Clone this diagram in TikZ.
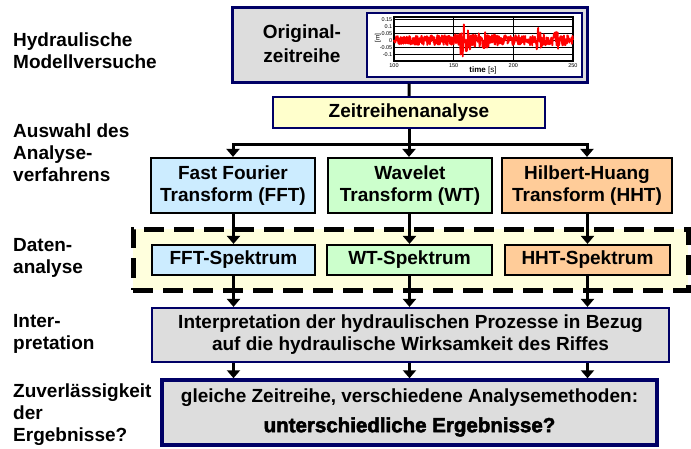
\documentclass[tikz,border=0pt]{standalone}
\usepackage{fontspec}
\setmainfont{Liberation Sans}
\newfontfamily\heavyfont{Liberation Sans}[BoldFeatures={FakeBold=2.5}]
\usetikzlibrary{arrows.meta}
\definecolor{navyc}{HTML}{000066}
\definecolor{grayc}{HTML}{DDDDDD}
\definecolor{yellc}{HTML}{FFFFCC}
\definecolor{dashc}{HTML}{FFFFDD}
\definecolor{bluec}{HTML}{CCECFF}
\definecolor{greenc}{HTML}{CCFFCC}
\definecolor{orangec}{HTML}{FFCC99}
\tikzset{
  mainfont/.style={font=\bfseries\fontsize{19}{22}\selectfont},
  box/.style={draw, line width=2.2, inner sep=0pt, align=center, mainfont},
  navybox/.style={box, draw=navyc},
  blackbox/.style={box, draw=black},
  sidelabel/.style={anchor=north west, inner sep=0pt, align=left, mainfont},
  arr/.style={line width=3, -{Triangle[width=13pt,length=8pt]}},
  conn/.style={line width=3},
  dashbox/.style={draw=black, line width=5, dash pattern=on 20pt off 10pt, fill=dashc, inner sep=0pt},
  tick/.style={font=\fontsize{5.5}{6}\selectfont, inner sep=0pt},
}
\begin{document}
\begin{tikzpicture}[x=1pt,y=-1pt]
\useasboundingbox (0,0) rectangle (691,448);

% side labels
\node[sidelabel] (l1) at (13,33) {Hydraulische\\Modellversuche};
\node[sidelabel] (l2) at (13,124) {Auswahl des\\Analyse-\\verfahrens};
\node[sidelabel] (l3) at (13,238) {Daten-\\analyse};
\node[sidelabel] (l4) at (13,314) {Inter-\\pretation};
\node[sidelabel] (l5) at (13,384) {Zuverlässigkeit\\der\\Ergebnisse?};

% top box
\node[navybox, line width=3, fill=grayc, minimum width=355, minimum height=75] (orig) at (409.5,44.5) {};
\node[inner sep=0pt, align=center, font=\bfseries\fontsize{19}{24}\selectfont] (origtxt) at (302,44) {Original-\\zeitreihe};
\node[draw=navyc, line width=2, fill=white, minimum width=215, minimum height=64, inner sep=0pt] (panel) at (474.5,45) {};

% plot grid
\foreach \v in {-0.1,-0.05,0,0.05,0.1,0.15}
  \draw[line width=1.4] (394,{40.5-140*\v}) -- (573,{40.5-140*\v});
\foreach \t in {150,200}
  \draw[line width=1.4] ({274.7+1.193*\t},17) -- ({274.7+1.193*\t},61);
\draw[line width=1.4] (394,17) rectangle (573,61);
\pgfmathsetseed{11}
\draw[red, line width=1.8, line join=round] plot[domain=100:250, samples=480]
  ({274.7+1.193*\x}, {40.5-140*(0.003+(0.034+0.11/(1+((\x-157)/1.5)^2)+0.05/(1+((\x-161)/3)^2)+0.025/(1+((\x-176)/4)^2)+0.06/(1+((\x-221)/1.5)^2)+0.07/(1+((\x-236)/1.5)^2))*rand)});
% tick labels
\foreach \v/\s in {0.15/0.15,0.1/0.1,0.05/0.05,0/0,-0.05/-0.05,-0.1/-0.1}
  \node[tick, anchor=east] at (392.5,{40.5-140*\v}) {\s};
\foreach \t in {100,150,200,250}
  \node[tick] at ({274.7+1.193*\t},66) {\t};
\node[inner sep=0pt, font=\fontsize{8}{9}\selectfont] (tlab) at (483,70) {\textbf{time} [s]};
\node[inner sep=0pt, rotate=90, font=\fontsize{6.5}{7}\selectfont] (ylab) at (378,38) {[m]};

% Zeitreihenanalyse
\node[navybox, fill=yellc, minimum width=272, minimum height=31] (zra) at (409,112.5) {Zeitreihenanalyse};

% transforms
\node[blackbox, fill=bluec, minimum width=164, minimum height=55] (fft) at (233,185.5) {Fast Fourier\\Transform (FFT)};
\node[blackbox, fill=greenc, minimum width=164, minimum height=55] (wt) at (410,185.5) {Wavelet\\Transform (WT)};
\node[blackbox, fill=orangec, minimum width=170, minimum height=55] (hht) at (587,185.5) {Hilbert-Huang\\Transform (HHT)};

% data analysis
\node[dashbox, minimum width=555, minimum height=61] (dz) at (410.5,259.5) {};
\node[blackbox, fill=bluec, minimum width=163, minimum height=30] (fftsp) at (233.5,260) {FFT-Spektrum};
\node[blackbox, fill=greenc, minimum width=165, minimum height=30] (wtsp) at (409.5,260) {WT-Spektrum};
\node[blackbox, fill=orangec, minimum width=165, minimum height=30] (hhtsp) at (587.5,260) {HHT-Spektrum};

% interpretation
\node[navybox, fill=grayc, minimum width=517, minimum height=54] (interp) at (410.5,335) {Interpretation der hydraulischen Prozesse in Bezug\\auf die hydraulische Wirksamkeit des Riffes};

% result
\node[navybox, line width=3.5, fill=grayc, minimum width=495, minimum height=65] (res) at (409.5,412.5) {gleiche Zeitreihe, verschiedene Analysemethoden:\\[8pt]{\heavyfont\bfseries\fontsize{20.5}{24}\selectfont unterschiedliche Ergebnisse?}};

% connectors
\draw[conn] (orig) -- (zra);
\coordinate (bar) at (409,144);
\draw[arr] (zra.south) -- (zra.south |- wt.north);
\draw[arr] (bar) -| (fft.north);
\draw[arr] (bar) -| (hht.north);
\foreach \a/\b in {fft/fftsp, wt/wtsp, hht/hhtsp}{
  \draw[arr] (\b.north |- \a.south) -- (\b.north);
  \draw[arr] (\b.south) -- (\b.south |- interp.north);
  \draw[arr] (\b.south |- interp.south) -- (\b.south |- res.north);
}
\end{tikzpicture}
\end{document}
